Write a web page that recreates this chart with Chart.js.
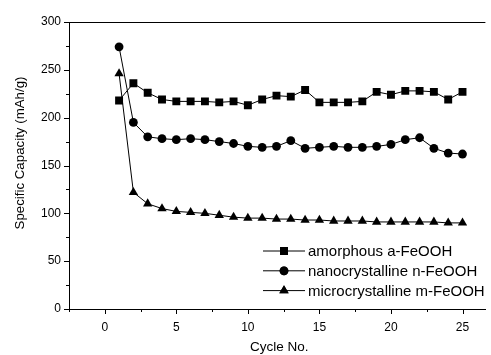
<!DOCTYPE html>
<html>
<head>
<meta charset="utf-8">
<script src="https://cdn.jsdelivr.net/npm/chart.js@4.4.1/dist/chart.umd.min.js"></script>
<style>
  html, body { margin: 0; padding: 0; background: #fff; }
  #wrap { width: 491px; height: 355px; position: relative; }
</style>
</head>
<body>
<div id="wrap"><canvas id="c"></canvas></div>
<script>
// cycle number and capacities (mAh/g)
const cycles = [1, 2, 3, 4, 5, 6, 7, 8, 9, 10, 11, 12, 13, 14, 15, 16, 17, 18, 19, 20, 21, 22, 23, 24, 25];
const amorphous = [218, 236, 226, 219, 217, 217, 217, 216, 217, 213, 219, 223, 222, 229, 216, 216, 216, 217, 227, 224, 228, 228, 227, 219, 227];
const nanocrystalline = [274, 195, 180, 178, 177, 178, 177, 175, 173, 170, 169, 170, 176, 168, 169, 170, 169, 169, 170, 172, 177, 179, 168, 163, 162];
const microcrystalline = [246, 122, 110, 105, 102, 101, 100, 98, 96, 95, 95, 94, 94, 93, 93, 92, 92, 92, 91, 91, 91, 91, 91, 90, 90];
const seriesNames = ['amorphous a-FeOOH', 'nanocrystalline n-FeOOH', 'microcrystalline m-FeOOH'];
const xTickValues = [-2.5, 0, 2.5, 5, 7.5, 10, 12.5, 15, 17.5, 20, 22.5, 25];

const FONT = 'Liberation Sans, Arial, Helvetica, sans-serif';

function makeSet(label, values, style, radius) {
  return {
    label,
    data: cycles.map((c, i) => ({ x: c, y: values[i] })),
    borderColor: '#000',
    backgroundColor: '#000',
    borderWidth: 1,
    pointStyle: style,
    pointRadius: radius,
    pointBorderWidth: 0,
    pointBackgroundColor: '#000',
    tension: 0
  };
}

// tick marks (major + minor), top frame line, axis titles, legend
const decorPlugin = {
  id: 'decor',
  afterDraw(chart) {
    const ctx = chart.ctx;
    const a = chart.chartArea;
    const xs = chart.scales.x, ys = chart.scales.y;
    ctx.save();
    ctx.strokeStyle = '#000';
    ctx.lineWidth = 1;
    ctx.beginPath();
    // top frame
    ctx.moveTo(a.left, a.top + 0.5);
    ctx.lineTo(a.right, a.top + 0.5);
    ys.ticks.forEach(t => {
      const y = Math.round(ys.getPixelForValue(t.value)) + 0.5;
      const len = t.value % 50 === 0 ? 5 : 3;
      ctx.moveTo(a.left - len, y);
      ctx.lineTo(a.left, y);
    });
    xs.ticks.forEach(t => {
      const x = Math.round(xs.getPixelForValue(t.value)) + 0.5;
      const len = t.value % 5 === 0 ? 5 : 3;
      ctx.moveTo(x, a.bottom);
      ctx.lineTo(x, a.bottom + len);
    });
    ctx.stroke();

    // axis titles
    ctx.fillStyle = '#000';
    ctx.font = '13.5px ' + FONT;
    ctx.textAlign = 'center';
    ctx.textBaseline = 'middle';
    ctx.fillText('Cycle No.', (a.left + a.right) / 2 + 2, 347);
    ctx.save();
    ctx.translate(20, 153);
    ctx.rotate(-Math.PI / 2);
    ctx.font = '13.3px ' + FONT;
    ctx.fillText('Specific Capacity (mAh/g)', 0, 0);
    ctx.restore();

    // legend
    ctx.font = '15px ' + FONT;
    ctx.textAlign = 'left';
    chart.data.datasets.forEach((ds, i) => {
      const y = 251 + i * 19.8;
      ctx.beginPath();
      ctx.moveTo(263, y);
      ctx.lineTo(305, y);
      ctx.stroke();
      Chart.helpers.drawPoint(ctx, { pointStyle: ds.pointStyle, radius: ds.pointRadius, rotation: 0, borderWidth: 0 }, 284, y);
      ctx.fill();
      ctx.fillText(ds.label, 308, y + 1);
    });
    ctx.restore();
  }
};

new Chart(document.getElementById('c'), {
  type: 'line',
  data: {
    datasets: [
      makeSet(seriesNames[0], amorphous, 'rect', 5.6),
      makeSet(seriesNames[1], nanocrystalline, 'circle', 4.4),
      makeSet(seriesNames[2], microcrystalline, 'triangle', 5.4)
    ]
  },
  options: {
    responsive: true,
    maintainAspectRatio: false,
    animation: false,
    layout: { padding: { top: 22, right: 0, left: 0, bottom: 0 } },
    plugins: { legend: { display: false }, tooltip: { enabled: false } },
    scales: {
      x: {
        type: 'linear',
        min: -2.5,
        max: 26.6,
        afterBuildTicks: s => { s.ticks = xTickValues.map(v => ({ value: v })); },
        afterFit: s => { s.height = 46; },
        grid: { display: false, drawTicks: false },
        border: { color: '#000', width: 1 },
        ticks: {
          autoSkip: false,
          maxRotation: 0,
          padding: 11,
          color: '#000',
          font: { family: FONT, size: 12 },
          callback: v => (v % 5 === 0 ? String(v) : '')
        }
      },
      y: {
        min: 0,
        max: 300,
        afterFit: s => { s.width = 69; },
        grid: { display: false, drawTicks: false },
        border: { color: '#000', width: 1 },
        ticks: {
          stepSize: 25,
          autoSkip: false,
          padding: 8,
          color: '#000',
          font: { family: FONT, size: 12 },
          callback: v => (v % 50 === 0 ? String(v) : '')
        }
      }
    }
  },
  plugins: [decorPlugin]
});
</script>
</body>
</html>
